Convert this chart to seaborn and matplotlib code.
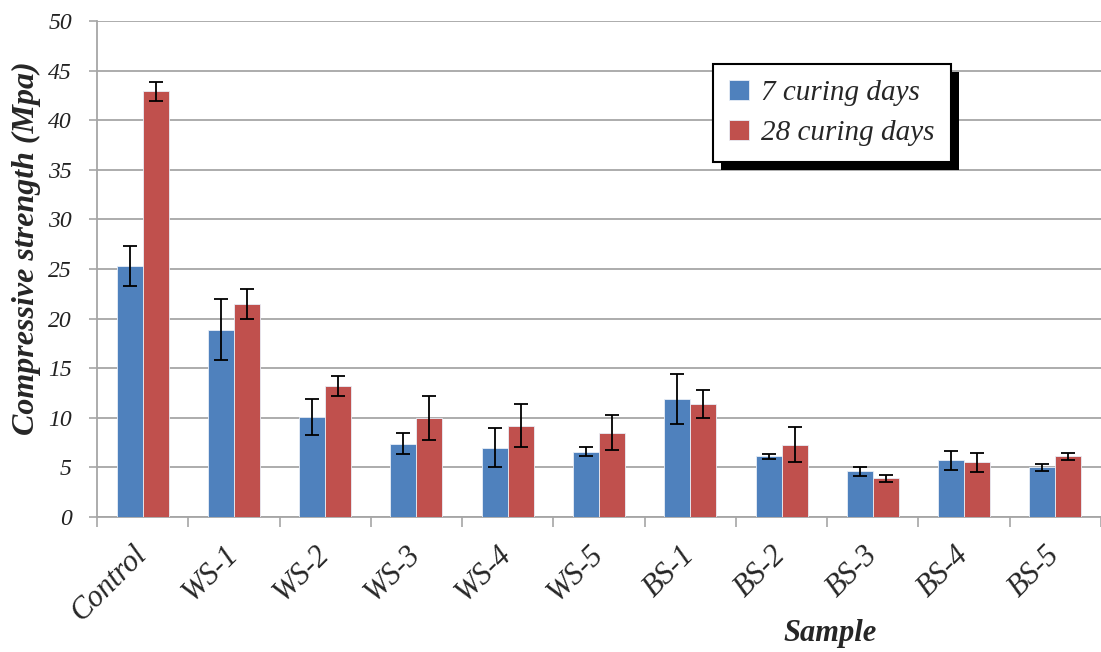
import numpy as np
import pandas as pd
import matplotlib
matplotlib.use("Agg")
import matplotlib.pyplot as plt
import seaborn as sns
from matplotlib.patches import Rectangle

samples = ["Control", "WS-1", "WS-2", "WS-3", "WS-4", "WS-5", "BS-1", "BS-2", "BS-3", "BS-4", "BS-5"]
series_names = ["7 curing days", "28 curing days"]
day7 = [25.3, 18.9, 10.1, 7.4, 7.0, 6.6, 11.9, 6.1, 4.6, 5.7, 5.0]
day7_err = [2.0, 3.1, 1.8, 1.05, 1.95, 0.5, 2.5, 0.27, 0.45, 1.0, 0.32]
day28 = [42.9, 21.5, 13.2, 10.0, 9.2, 8.5, 11.4, 7.3, 3.9, 5.5, 6.1]
day28_err = [1.0, 1.5, 1.05, 2.2, 2.15, 1.75, 1.45, 1.75, 0.37, 0.97, 0.4]
y_ticks = [0, 5, 10, 15, 20, 25, 30, 35, 40, 45, 50]

colors = ["#4F81BD", "#C0504D"]

df = pd.DataFrame({
    "Sample": samples * 2,
    "Series": [series_names[0]] * len(samples) + [series_names[1]] * len(samples),
    "Value": day7 + day28,
    "Err": day7_err + day28_err,
})

sns.set_theme(style="white")
plt.rcParams["font.family"] = ["Liberation Serif", "DejaVu Serif"]

W, H = 1101, 652
fig = plt.figure(figsize=(W / 100, H / 100), dpi=100)
left, right, top, bottom = 97, 1101, 21, 517
ax = fig.add_axes([left / W, 1 - bottom / H, (right - left) / W, (bottom - top) / H])

sns.barplot(data=df, x="Sample", y="Value", hue="Series", order=samples,
            hue_order=series_names, palette=colors, width=0.57, gap=0,
            errorbar=None, saturation=1, ax=ax, zorder=3,
            edgecolor="#e8eef7", linewidth=0.6)

# error bars at bar centres
bar_containers = list(ax.containers)
for s_idx, cont in enumerate(bar_containers):
    errs = df[df["Series"] == series_names[s_idx]]["Err"].to_numpy()
    for bar, e in zip(cont.patches, errs):
        xc = bar.get_x() + bar.get_width() / 2
        ax.errorbar(xc, bar.get_height(), yerr=e, fmt="none", ecolor="black",
                    elinewidth=1.3, capsize=4.7, capthick=1.3, zorder=4)

ax.set_ylim(0, 50)
ax.set_yticks(y_ticks)
ax.set_yticklabels([str(t) for t in y_ticks], fontsize=17, fontstyle="italic", color="#222222")
ax.set_xlim(-0.5, -0.5 + (right - left) / 92.0)

ax.grid(axis="y", color="#a6a6a6", linewidth=1.3, zorder=0)
ax.set_axisbelow(True)
for sp in ["top", "right"]:
    ax.spines[sp].set_visible(False)
for sp in ["left", "bottom"]:
    ax.spines[sp].set_color("#a6a6a6")
    ax.spines[sp].set_linewidth(1.3)

ax.tick_params(axis="y", which="major", length=6, width=1.2, color="#a6a6a6", direction="out", left=True, pad=12)
ax.tick_params(axis="x", which="major", length=0, pad=24)
ax.set_xticks(np.arange(-0.5, len(samples) + 0.5, 1.0), minor=True)
ax.tick_params(axis="x", which="minor", length=7, width=1.2, color="#a6a6a6", direction="out", bottom=True)

ax.set_xticks(range(len(samples)))
ax.set_xticklabels(samples, fontsize=22, fontstyle="italic", rotation=45,
                   ha="right", va="center", rotation_mode="anchor")

ax.set_xlabel("Sample", fontsize=22, fontweight="bold", fontstyle="italic")
ax.xaxis.set_label_coords(0.730, -0.205)
ax.set_ylabel("Compressive strength (Mpa)", fontsize=23, fontweight="bold", fontstyle="italic")
ax.yaxis.set_label_coords(-0.056, 0.542)

leg = ax.legend(loc="upper left", bbox_to_anchor=((713 - left) / (right - left), (bottom - 64) / (bottom - top)),
                borderaxespad=0, frameon=True, fancybox=False, framealpha=1,
                prop={"size": 21, "style": "italic"}, handlelength=0.7, handleheight=0.7,
                handletextpad=0.4, borderpad=0.55, labelspacing=0.45)
leg.get_frame().set_edgecolor("black")
leg.get_frame().set_linewidth(1.5)
leg.set_zorder(10)

fig.canvas.draw()
bb = leg.get_window_extent()
off = 8
shadow = Rectangle((bb.x0 + off, bb.y0 - off), bb.width, bb.height, transform=None,
                   facecolor="black", edgecolor="none", zorder=9)
ax.add_artist(shadow)
shadow.set_clip_on(False)

fig.savefig("out.png", dpi=100)
